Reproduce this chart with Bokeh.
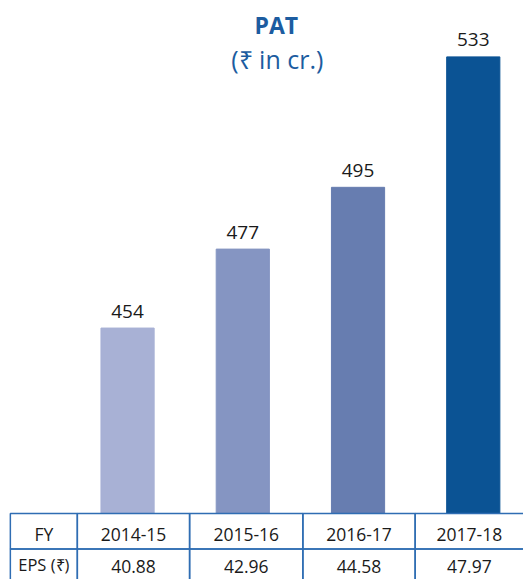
from bokeh.plotting import figure
from bokeh.models import Range1d
from bokeh.core.properties import value
from bokeh.embed import file_html
from bokeh.resources import INLINE

# ---- data ----
years = ["2014-15", "2015-16", "2016-17", "2017-18"]
pat = [454, 477, 495, 533]
eps = [40.88, 42.96, 44.58, 47.97]
bar_colors = ["#a8b1d5", "#8595c2", "#677db0", "#0b5394"]
title_text = "PAT"
subtitle_text = "(₹ in cr.)"
row_headers = ["FY", "EPS (₹)"]

FONT = "Open Sans"
W, H = 523, 579
# layout reference frame (the chart is laid out on a 531 x 587 grid)
RW, RH = 531, 587
X0, DX = 129, 117          # centre of first bar, spacing between bars
BASE, PPU = 400, 3.48      # value at bar baseline, pixels per unit
BASE_Y = 520               # baseline position on the grid

idx = list(range(len(years)))

p = figure(width=W, height=H, output_backend="svg", toolbar_location=None,
           x_range=Range1d(-X0 / DX, (RW - X0) / DX),
           y_range=Range1d(BASE - (RH - BASE_Y) / PPU, BASE + BASE_Y / PPU),
           x_axis_location=None, y_axis_location=None, min_border=0)
p.grid.visible = False
p.outline_line_color = None
p.background_fill_color = "white"
p.border_fill_color = "white"

p.extra_x_ranges = {"px": Range1d(0, RW)}
p.extra_y_ranges = {"px": Range1d(RH, 0)}

# bars
p.vbar(x=idx, top=pat, bottom=BASE, width=54 / DX, color=bar_colors)
p.text(x=idx, y=pat, text=[str(v) for v in pat], y_offset=-17,
       text_align="center", text_baseline="middle",
       text_font=value(FONT), text_font_size="19px", text_color="#1a1a1a")

# title
p.text(x=[280], y=[25], text=[title_text], x_range_name="px", y_range_name="px",
       text_align="center", text_baseline="middle", text_font=value(FONT),
       text_font_size="23px", text_font_style="bold", text_color="#1c5ca0")
p.text(x=[281], y=[59], text=[subtitle_text], x_range_name="px", y_range_name="px",
       text_align="center", text_baseline="middle", text_font=value(FONT),
       text_font_size="25px", text_color="#1c5ca0")

# table
col_edges = [10, 78, 192, 307, 421, 545]
row_edges = [520, 556, 600]
lefts, rights, tops, bottoms = [], [], [], []
for r in range(2):
    for c in range(5):
        lefts.append(col_edges[c]); rights.append(col_edges[c + 1])
        tops.append(row_edges[r]); bottoms.append(row_edges[r + 1])
p.quad(left=lefts, right=rights, top=tops, bottom=bottoms,
       x_range_name="px", y_range_name="px",
       fill_color=None, line_color="#2f6db3", line_width=1.5)

centers = [(col_edges[i] + col_edges[i + 1]) / 2 for i in range(4)] + [476]
row1 = [row_headers[0]] + years
row2 = [row_headers[1]] + [f"{v:.2f}" for v in eps]
p.text(x=centers, y=[541] * 5, text=row1, x_range_name="px", y_range_name="px",
       text_align="center", text_baseline="middle", text_font=value(FONT),
       text_font_size="17.5px", text_color="#1a1a1a")
p.text(x=centers[1:], y=[574] * 4, text=row2[1:], x_range_name="px", y_range_name="px",
       text_align="center", text_baseline="middle", text_font=value(FONT),
       text_font_size="17.5px", text_color="#1a1a1a")
p.text(x=centers[:1], y=[572], text=row2[:1], x_range_name="px", y_range_name="px",
       text_align="center", text_baseline="middle", text_font=value(FONT),
       text_font_size="16.5px", text_color="#1a1a1a")

open("out.html", "w").write(file_html(p, INLINE))
